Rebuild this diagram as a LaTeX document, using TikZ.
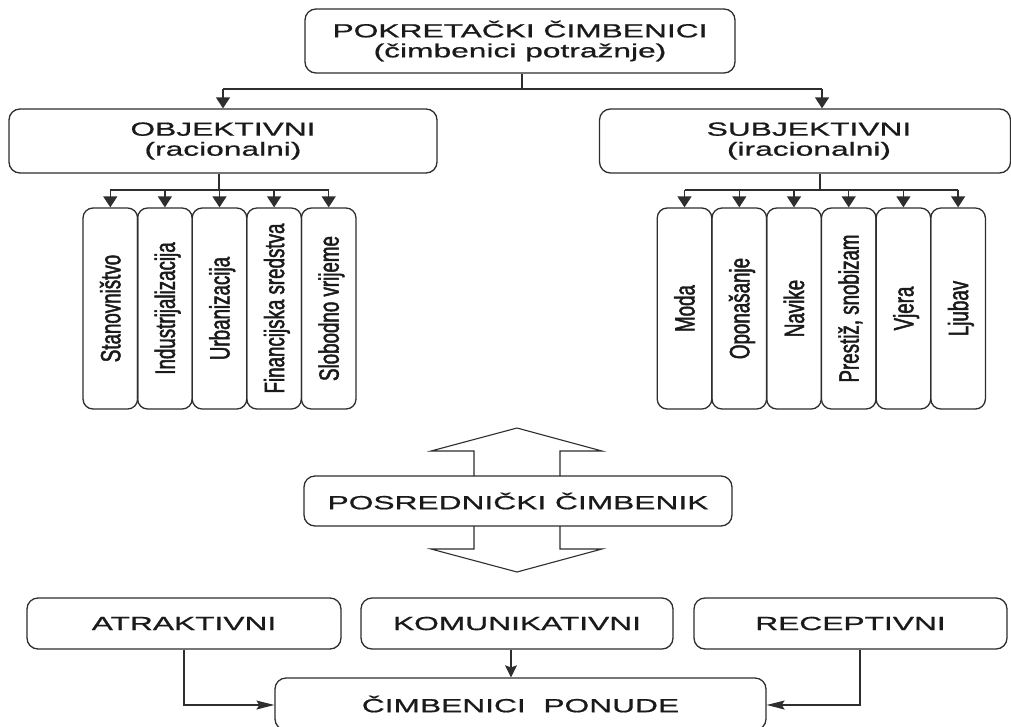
\documentclass[tikz,border=0pt]{standalone}
\usepackage{fontspec}
\setmainfont{Liberation Sans}
\newfontfamily\hfont[FakeStretch=1.67,FakeBold=0.8]{Liberation Sans}
\newfontfamily\vfont[FakeStretch=0.67,FakeBold=1.6]{Liberation Sans}
\usetikzlibrary{arrows.meta}
\definecolor{ink}{HTML}{1A1A1A}
\definecolor{edge}{HTML}{2E2E2E}
\tikzset{
  box/.style={draw=edge, line width=1.3pt, rounded corners=11pt, inner sep=0pt,
    align=center, text=ink, font=\hfont\fontsize{19}{20}\selectfont},
  vbox/.style={draw=edge, line width=1.3pt, rounded corners=10pt, rotate=90,
    minimum width=201pt, minimum height=54.6pt, inner sep=0pt,
    text height=20pt, text depth=0pt, text=ink,
    font=\vfont\fontsize{28}{30}\selectfont},
  conn/.style={draw=edge, line width=1.3pt},
  darr/.style={conn, -{Triangle[length=11pt,width=14pt]}},
  harr/.style={draw=edge, line width=1.1pt, -{Stealth[length=18pt,width=9pt,inset=3pt]}},
  varr/.style={draw=edge, line width=1.1pt, -{Stealth[length=12pt,width=12pt,inset=2pt]}},
  bigarrow/.style={draw=edge, line width=1.1pt, line join=miter}
}
\begin{document}
\begin{tikzpicture}[x=1pt,y=-1pt]
\useasboundingbox (0,0) rectangle (1011,726);
\fill[white] (0,0) rectangle (1011,726);

% top level
\node[box, minimum width=430pt, minimum height=64pt] (top) at (520,41)
  {POKRETAČKI ČIMBENICI\\(čimbenici potražnje)};
\node[box, minimum width=428pt, minimum height=64pt] (obj) at (223,141)
  {OBJEKTIVNI\\(racionalni)};
\node[box, minimum width=411pt, minimum height=64pt] (subj) at (805,141)
  {\hspace*{8pt}SUBJEKTIVNI\\\hspace*{8pt}(iracionalni)};

\coordinate (topbus) at (522,89);
\coordinate (sarr) at (822,89);
\draw[conn] (top.south -| topbus) -- (topbus);
\draw[conn] (obj.north |- topbus) -- (sarr);
\draw[darr] (obj.north |- topbus) -- (obj.north);
\draw[darr] (sarr) -- (sarr |- subj.north);

% objective factors
\node[vbox] (v1) at (110.3,308.5) {Stanovništvo};
\node[vbox] (v2) at (164.9,308.5) {Industrijalizacija};
\node[vbox] (v3) at (219.5,308.5) {Urbanizacija};
\node[vbox] (v4) at (274.1,308.5) {Financijska sredstva};
\node[vbox] (v5) at (328.7,308.5) {Slobodno vrijeme};

\coordinate (objbus) at (219,190);
\draw[conn] (obj.south -| objbus) -- (objbus);
\draw[conn] (v1.east |- objbus) -- (v5.east |- objbus);
\foreach \n in {v1,v2,v3,v4,v5} \draw[darr] (\n.east |- objbus) -- (\n.east);

% subjective factors
\node[vbox] (s1) at (684.5,308.5) {Moda};
\node[vbox] (s2) at (739.3,308.5) {Oponašanje};
\node[vbox] (s3) at (794.0,308.5) {Navike};
\node[vbox] (s4) at (848.7,308.5) {Prestiž, snobizam};
\node[vbox] (s5) at (903.4,308.5) {Vjera};
\node[vbox] (s6) at (958.1,308.5) {Ljubav};

\coordinate (subjbus) at (820,190);
\draw[conn] (subj.south -| subjbus) -- (subjbus);
\draw[conn] (s1.east |- subjbus) -- (s6.east |- subjbus);
\foreach \n in {s1,s2,s3,s4,s5,s6} \draw[darr] (\n.east |- subjbus) -- (\n.east);

% mediating factor with double arrow
\node[box, minimum width=428pt, minimum height=50pt] (posr) at (518,501)
  {POSREDNIČKI ČIMBENIK};
\draw[bigarrow] (474,476) -- (474,451) -- (431,451) -- (517,428) -- (602,451) -- (560,451) -- (560,476);
\draw[bigarrow] (474,526) -- (474,549) -- (431,549) -- (517,572) -- (602,549) -- (560,549) -- (560,526);

% supply side
\node[box, minimum width=314pt, minimum height=51pt] (atr) at (184,623.5) {ATRAKTIVNI};
\node[box, minimum width=312pt, minimum height=51pt] (kom) at (517,623.5) {KOMUNIKATIVNI};
\node[box, minimum width=313pt, minimum height=51pt] (rec) at (850.5,623.5) {RECEPTIVNI};
\node[box, minimum width=491pt, minimum height=52pt] (pon) at (520.5,704) {ČIMBENICI\ \ PONUDE};

\coordinate (kx) at (511,0);
\coordinate (rx) at (860,0);
\draw[harr] (atr.south) |- ([yshift=-1pt]pon.west);
\draw[varr] (kom.south -| kx) -- (pon.north -| kx);
\draw[harr] (rec.south -| rx) |- ([yshift=-1pt]pon.east);
\end{tikzpicture}
\end{document}
